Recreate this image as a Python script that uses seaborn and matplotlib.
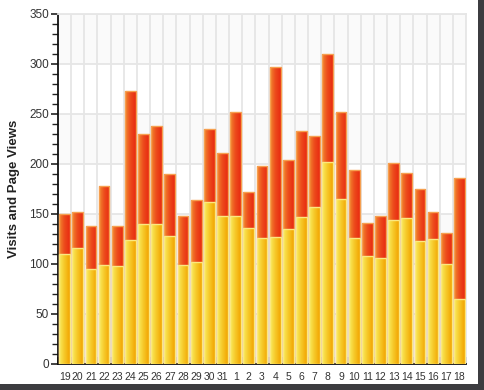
import numpy as np
import pandas as pd
import matplotlib
matplotlib.use("Agg")
import matplotlib.pyplot as plt
from matplotlib.colors import LinearSegmentedColormap
from matplotlib.patches import Rectangle
import seaborn as sns

# daily figures
days = ["19", "20", "21", "22", "23", "24", "25", "26", "27", "28", "29", "30", "31",
        "1", "2", "3", "4", "5", "6", "7", "8", "9", "10", "11", "12", "13", "14",
        "15", "16", "17", "18"]
visits = [110, 116, 95, 99, 98, 124, 140, 140, 128, 99, 102, 162, 148,
          148, 136, 126, 127, 135, 147, 157, 202, 165, 126, 108, 106, 144, 146,
          123, 125, 100, 65]
page_views = [150, 152, 138, 178, 138, 273, 230, 238, 190, 148, 164, 235, 211,
              252, 172, 198, 297, 204, 233, 228, 310, 252, 194, 141, 148, 201, 191,
              175, 152, 131, 186]

df = pd.DataFrame({"day": days, "visits": visits, "page_views": page_views})

sns.set_style("white")
plt.rcParams["font.family"] = ["Liberation Sans", "DejaVu Sans"]

fig = plt.figure(figsize=(4.84, 3.90), dpi=100)
fig.patch.set_facecolor("white")
ax = fig.add_axes([58 / 484, 26 / 390, 408 / 484, 350 / 390])

red_cmap = LinearSegmentedColormap.from_list("red", ["#f28a30", "#ec4a1c", "#e82a10"])
yel_cmap = LinearSegmentedColormap.from_list("yel", ["#f9ec60", "#f6c828", "#f2a400"])

sns.barplot(data=df, x="day", y="page_views", order=days, color="#ec4a1c",
            width=0.82, edgecolor="#f6a050", linewidth=1.0, ax=ax, zorder=3)
sns.barplot(data=df, x="day", y="visits", order=days, color="#f6c828",
            width=0.82, edgecolor="#fbe880", linewidth=1.0, ax=ax, zorder=4)

# horizontal gradients inside each bar
grad = np.linspace(0, 1, 64).reshape(1, -1)
for cont, cmap in zip(ax.containers, [red_cmap, yel_cmap]):
    for p in cont.patches:
        x0, y0 = p.get_x(), p.get_y()
        w, h = p.get_width(), p.get_height()
        z = p.get_zorder()
        im = ax.imshow(grad, cmap=cmap, aspect="auto", extent=(x0, x0 + w, y0, y0 + h),
                       zorder=z + 0.1, interpolation="bilinear")
        im.set_clip_path(p)
        p.set_zorder(z + 0.2)
        p.set_facecolor("none")

ax.set_xlim(-0.5, len(days) - 0.5)
ax.set_ylim(0, 350)
ax.set_aspect("auto")

# alternating horizontal bands
for lo in range(0, 350, 100):
    ax.axhspan(lo, lo + 50, color="#fafafa", zorder=0, lw=0)

# grid lines
for b in np.arange(0.5, len(days) - 0.5, 1):
    ax.axvline(b, color="#e6e6e6", lw=1.3, zorder=1)
for yv in range(50, 351, 50):
    ax.axhline(yv, color="#e6e6e6", lw=1.3, zorder=1)

ax.set_yticks(range(0, 351, 50))
ax.set_yticks(range(0, 351, 10), minor=True)
ax.tick_params(axis="y", which="major", direction="out", length=5, width=1.2,
               color="#222222", labelsize=8.5, labelcolor="#333333", pad=1.5, left=True)
ax.tick_params(axis="y", which="minor", direction="out", length=4, width=1.0,
               color="#222222", left=True)

ax.set_xticks(range(len(days)))
ax.set_xticklabels(days)
ax.tick_params(axis="x", which="major", length=0, labelsize=7.5, labelcolor="#333333", pad=6)
ax.set_xticks(np.arange(-0.5, len(days), 1), minor=True)
ax.tick_params(axis="x", which="minor", direction="in", length=5, width=1.2,
               color="#222222", bottom=True)

ax.set_xlabel("")
ax.set_ylabel("Visits and Page Views", fontsize=9.5, fontweight="bold", color="#222222")
ax.yaxis.set_label_coords(-0.093, 0.5)

for s in ["top", "right"]:
    ax.spines[s].set_color("#e6e6e6")
    ax.spines[s].set_linewidth(1.3)
for s in ["left", "bottom"]:
    ax.spines[s].set_color("#111111")
    ax.spines[s].set_linewidth(1.3)

# screenshot shadow along right and bottom edges
fig.patches.append(Rectangle((0, 0), 1, 6 / 390, transform=fig.transFigure,
                             facecolor="#3c3c40", edgecolor="none", zorder=-1))
fig.patches.append(Rectangle((478 / 484, 0), 6 / 484, 1, transform=fig.transFigure,
                             facecolor="#3c3c40", edgecolor="none", zorder=-1))

fig.savefig("out.png", dpi=100)
